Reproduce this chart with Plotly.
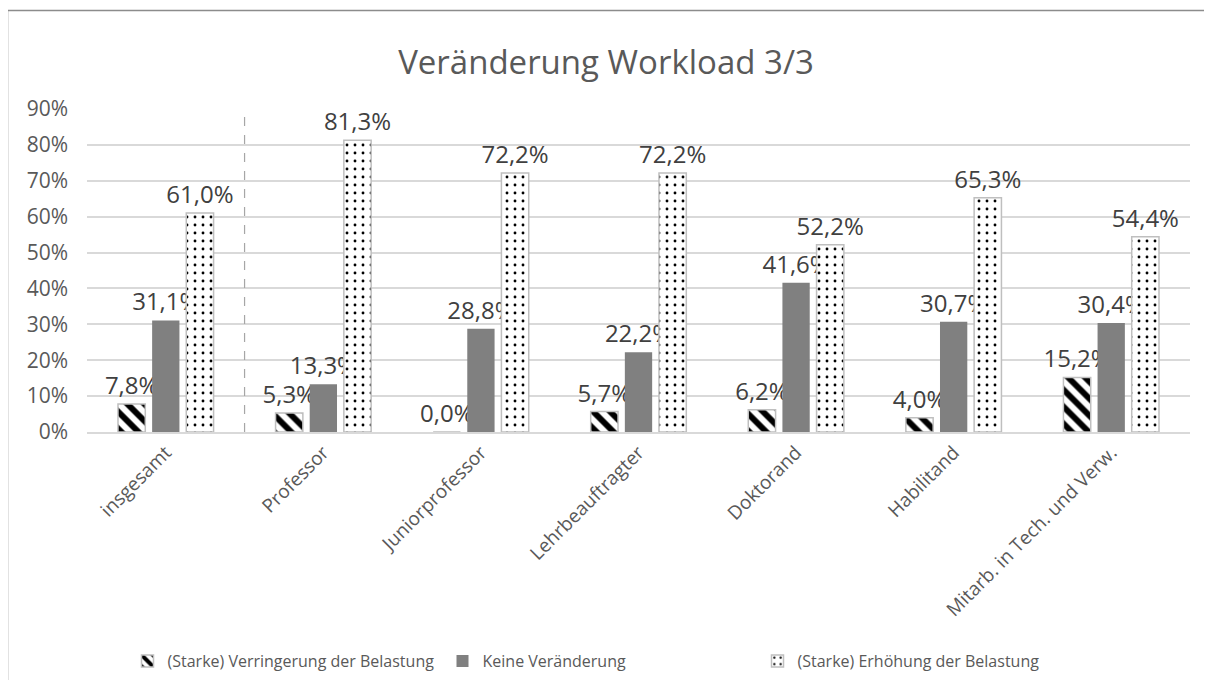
import plotly.graph_objects as go

categories = ["insgesamt", "Professor", "Juniorprofessor", "Lehrbeauftragter",
              "Doktorand", "Habilitand", "Mitarb. in Tech. und Verw."]
verringerung = [7.8, 5.3, 0.0, 5.7, 6.2, 4.0, 15.2]
keine = [31.1, 13.3, 28.8, 22.2, 41.6, 30.7, 30.4]
erhoehung = [61.0, 81.3, 72.2, 72.2, 52.2, 65.3, 54.4]
series_names = ["(Starke) Verringerung der Belastung", "Keine Veränderung",
                "(Starke) Erhöhung der Belastung"]
tick_vals = [0, 10, 20, 30, 40, 50, 60, 70, 80, 90]
tick_text = [f"{v}%" for v in tick_vals]

def fmt(vals):
    return [f"{v:.1f}%".replace(".", ",") for v in vals]

FONT = "Open Sans"
OFF = 8  # page body margin
W, H = 1212 - OFF, 680 - OFF
ML, MR, MT = 87 - OFF, 22, 109 - OFF
MB = H - (432 - OFF)

fig = go.Figure()
fig.add_bar(x=categories, y=verringerung, name=series_names[0],
            text=fmt(verringerung),
            marker=dict(color="white", line=dict(color="#bfbfbf", width=1.5),
                        pattern=dict(shape="\\", fgcolor="black", bgcolor="white",
                                     fgopacity=1, size=12, solidity=0.5,
                                     fillmode="replace")))
fig.add_bar(x=categories, y=keine, name=series_names[1], text=fmt(keine),
            marker=dict(color="#808080", line=dict(color="#808080", width=0)))
fig.add_bar(x=categories, y=erhoehung, name=series_names[2], text=fmt(erhoehung),
            marker=dict(color="white", line=dict(color="#bfbfbf", width=1.5),
                        pattern=dict(shape=".", fgcolor="black", bgcolor="white",
                                     fgopacity=1, size=8, solidity=0.1,
                                     fillmode="replace")))
fig.update_traces(textposition="outside", cliponaxis=False, constraintext="none",
                  textfont=dict(size=24, color="#404040", family=FONT))

pw = W - ML - MR
ph = H - MT - MB
fig.add_shape(type="rect", xref="paper", yref="paper",
              x0=(7.5 - OFF - ML) / pw, x1=(W + 20 - ML) / pw,
              y0=-(MB + 20) / ph,
              y1=1 + (MT - (10.5 - OFF)) / ph,
              line=dict(color="#8c8c8c", width=1.5), layer="above")
fig.add_shape(type="line", xref="x", yref="y", x0=0.5, x1=0.5, y0=0, y1=89.5,
              line=dict(color="#a6a6a6", width=1.2, dash="dash"))

fig.update_layout(
    width=W, height=H,
    margin=dict(l=ML, r=MR, t=MT, b=MB, autoexpand=False),
    paper_bgcolor="white", plot_bgcolor="white",
    barmode="group", bargap=0.35, bargroupgap=0.2,
    font=dict(family=FONT, color="#595959"),
    title=dict(text="Veränderung Workload 3/3", x=(606 - OFF) / W, xanchor="center",
               y=1 - (62 - OFF) / H, yanchor="middle",
               font=dict(size=33, color="#595959", family=FONT)),
    xaxis=dict(tickangle=-45, tickfont=dict(size=19, color="#595959"),
               showgrid=False, showline=True, linecolor="#d9d9d9", linewidth=2,
               ticks="", automargin=False),
    yaxis=dict(range=[0, 90], tickvals=tick_vals, ticktext=tick_text,
               tickfont=dict(size=21, color="#595959"), ticklabelstandoff=18,
               showgrid=True, gridcolor="#d9d9d9", gridwidth=1.5,
               zeroline=False, showline=False, ticks="", automargin=False),
    legend=dict(orientation="h", x=(600 - OFF - ML) / pw, xanchor="center",
                y=-(661 - 432) / ph,
                yanchor="middle", font=dict(size=16, color="#595959"),
                traceorder="normal", itemwidth=30,
                entrywidth=270, entrywidthmode="pixels"),
)
fig.write_html("out.html")
